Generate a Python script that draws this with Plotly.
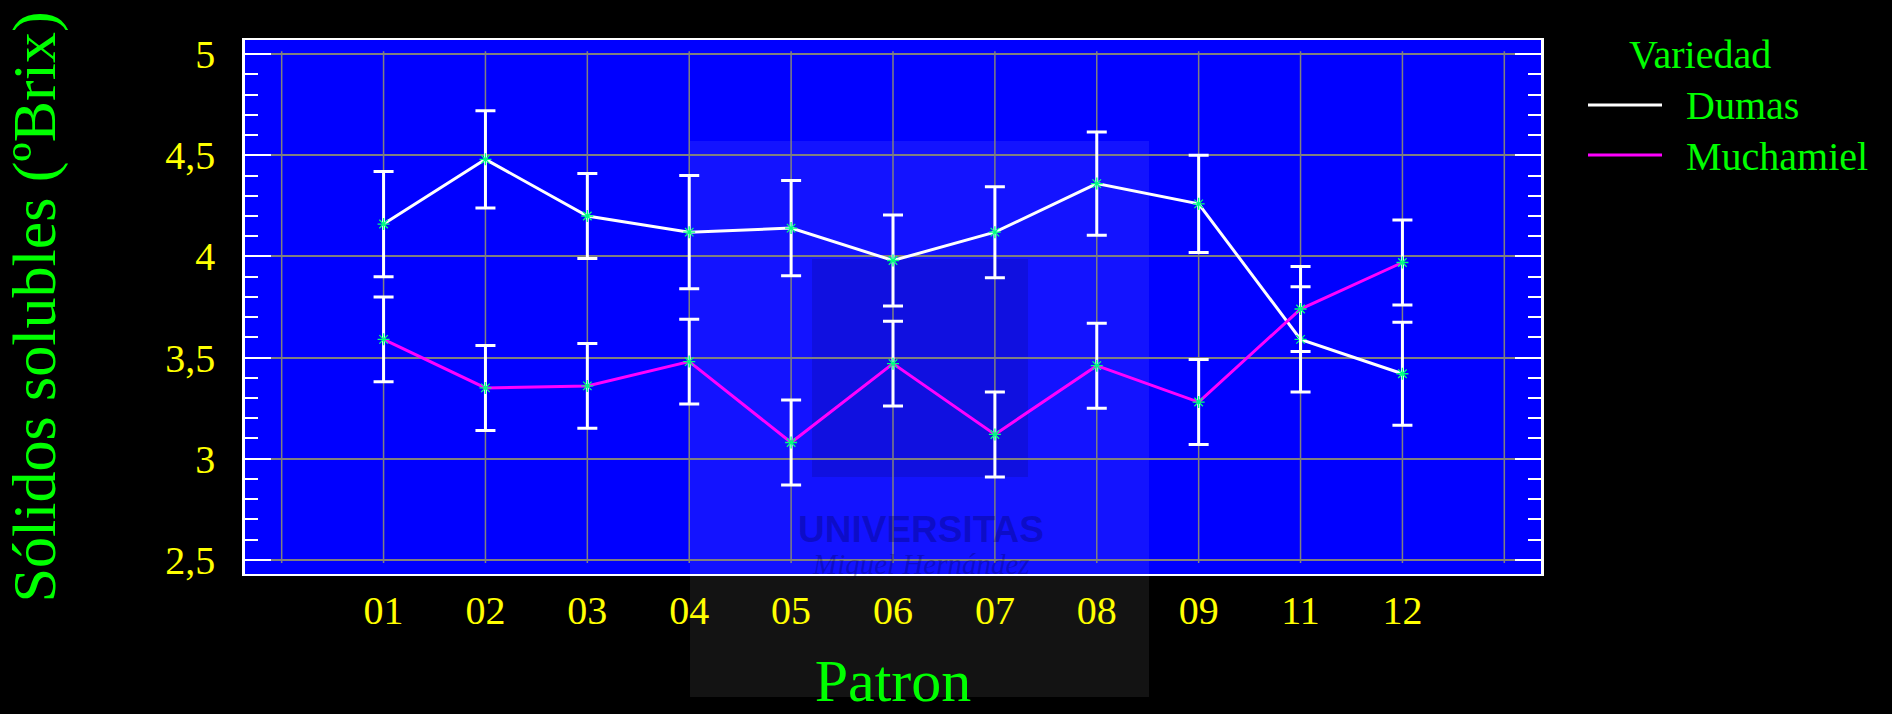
import plotly.graph_objects as go

categories = ["01", "02", "03", "04", "05", "06", "07", "08", "09", "11", "12"]
dumas = [4.16, 4.48, 4.20, 4.12, 4.14, 3.98, 4.12, 4.36, 4.26, 3.59, 3.42]
dumas_err = [0.26, 0.24, 0.21, 0.28, 0.235, 0.225, 0.225, 0.255, 0.24, 0.26, 0.255]
muchamiel = [3.59, 3.35, 3.36, 3.48, 3.08, 3.47, 3.12, 3.46, 3.28, 3.74, 3.97]
muchamiel_err = [0.21, 0.21, 0.21, 0.21, 0.21, 0.21, 0.21, 0.21, 0.21, 0.21, 0.21]
y_tickvals = [2.5, 3, 3.5, 4, 4.5, 5]
y_ticktext = ["2,5", "3", "3,5", "4", "4,5", "5"]

FONT = "Liberation Serif"
W, H = 1892, 714
ML, MR, MT, MB = 245, 351, 40, 140
PW, PH = W - ML - MR, H - MT - MB


def px_x(p):
    return (p - ML) / PW


def px_y(p):
    return (H - MB - p) / PH


xpos = list(range(len(categories)))

fig = go.Figure()
series = [
    ("Dumas", dumas, dumas_err, "#ffffff"),
    ("Muchamiel", muchamiel, muchamiel_err, "#ff00ff"),
]

# vertical grid lines (short of the frame, as in the original)
for gx in range(-1, len(categories) + 1):
    fig.add_shape(type="line", xref="x", yref="y", x0=gx, x1=gx, y0=2.485, y1=5.015,
                  line=dict(color="#808080", width=1.5), layer="below")

for name, vals, errs, col in series:
    fig.add_trace(go.Scatter(
        x=xpos, y=vals, name=name, mode="lines+markers", showlegend=False,
        line=dict(color=col, width=3),
        marker=dict(symbol="asterisk-open", size=10, color="#00ff80",
                    line=dict(color="#00ff80", width=1.3)),
        error_y=dict(type="data", array=errs, visible=True, color="#ffffff",
                     thickness=3, width=10),
    ))

# legend drawn like the original (long line samples, no markers)
fig.add_annotation(xref="paper", yref="paper", x=px_x(1700), y=px_y(55),
                   text="Variedad", showarrow=False, xanchor="center", yanchor="middle",
                   font=dict(family=FONT, size=40, color="#00ff00"))
for i, (name, vals, errs, col) in enumerate(series):
    yy = 106 + 50 * i
    fig.add_shape(type="line", xref="paper", yref="paper",
                  x0=px_x(1588), x1=px_x(1662), y0=px_y(yy - 1), y1=px_y(yy - 1),
                  line=dict(color=col, width=3))
    fig.add_annotation(xref="paper", yref="paper", x=px_x(1684), y=px_y(yy),
                       text=name, showarrow=False, xanchor="left", yanchor="middle",
                       font=dict(family=FONT, size=40, color="#00ff00"))

# watermark (document stamp) approximations
fig.add_shape(type="rect", xref="paper", yref="paper",
              x0=px_x(690), x1=px_x(1149), y0=px_y(697), y1=px_y(141),
              fillcolor="rgba(255,255,255,0.075)", line=dict(width=0), layer="below")
fig.add_shape(type="rect", xref="paper", yref="paper",
              x0=px_x(812), x1=px_x(1028), y0=px_y(477), y1=px_y(259),
              fillcolor="rgba(0,0,0,0.12)", line=dict(width=0), layer="below")
fig.add_annotation(xref="paper", yref="paper", x=px_x(921), y=px_y(552),
                   text="<b>UNIVERSITAS</b>", showarrow=False,
                   font=dict(family="Liberation Sans Narrow, Liberation Sans", size=37,
                             color="rgba(0,0,60,0.28)"))
fig.add_annotation(xref="paper", yref="paper", x=px_x(921), y=px_y(582),
                   text="<i>Miguel Hernández</i>", showarrow=False,
                   font=dict(family=FONT, size=29, color="rgba(0,0,60,0.28)"))

fig.update_layout(
    width=W, height=H,
    paper_bgcolor="#000000", plot_bgcolor="#0000ff",
    margin=dict(l=ML, r=MR, t=MT, b=MB),
    font=dict(family=FONT, color="#00ff00"),
    showlegend=False,
    xaxis=dict(
        range=[-1.36, 11.36], tickmode="array",
        tickvals=xpos, ticktext=categories,
        showgrid=False,
        zeroline=False, showline=True, linecolor="#ffffff", linewidth=2, mirror=True,
        ticks="", tickfont=dict(family=FONT, size=40, color="#ffff00"),
        title=dict(text="Patron", font=dict(family=FONT, size=60, color="#00ff00"),
                   standoff=28),
    ),
    yaxis=dict(
        range=[2.43, 5.07], tickmode="array",
        tickvals=y_tickvals, ticktext=y_ticktext,
        showgrid=True, gridcolor="#808080", gridwidth=1.5,
        zeroline=False, showline=True, linecolor="#ffffff", linewidth=2.5, mirror="ticks",
        ticks="inside", ticklen=26, tickwidth=2, tickcolor="#ffffff",
        minor=dict(dtick=0.1, ticks="inside", ticklen=13, tickwidth=2,
                   tickcolor="#ffffff", showgrid=False),
        tickfont=dict(family=FONT, size=40, color="#ffff00"),
        ticklabelstandoff=19,
        title=dict(text="Sólidos solubles (ºBrix)",
                   font=dict(family=FONT, size=62, color="#00ff00"), standoff=98),
    ),
)

fig.write_html("out.html", config={"displayModeBar": False},
               post_script="document.body.style.margin='0';document.body.style.background='#000';")
